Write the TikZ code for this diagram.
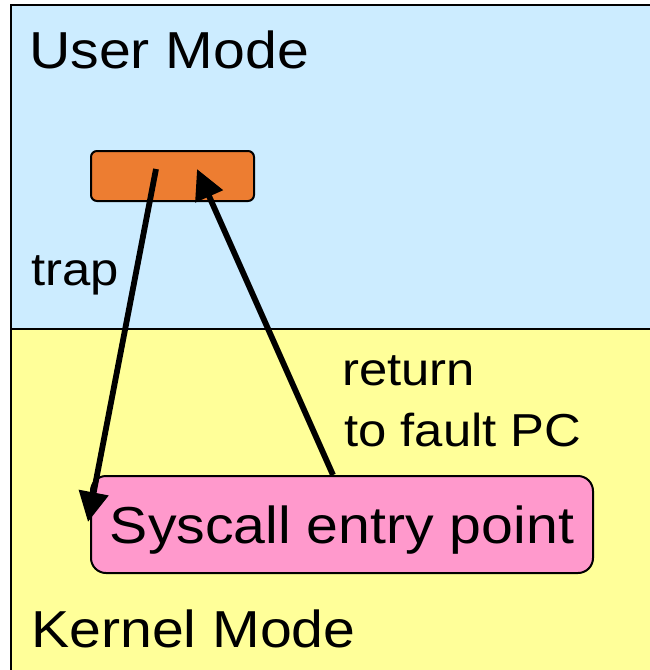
\documentclass[tikz,border=0pt]{standalone}
\usepackage{fontspec}
\setmainfont[FakeStretch=1.1]{Liberation Sans}
\usetikzlibrary{arrows.meta}
\definecolor{userbg}{HTML}{CCECFF}
\definecolor{kernbg}{HTML}{FFFF99}
\definecolor{procfill}{HTML}{ED7D31}
\definecolor{entryfill}{HTML}{FF99CC}
\begin{document}
\begin{tikzpicture}[x=1pt,y=-1pt,
  modelabel/.style={font=\fontsize{52}{60}\selectfont, inner sep=0pt, anchor=base west},
  armlabel/.style={font=\fontsize{46.2}{61}\selectfont, inner sep=0pt, anchor=base west},
  box/.style={draw=black, line width=2pt, inner sep=0pt},
  flow/.style={line width=5.8pt, -{Triangle[length=30pt,width=29pt]}}]
\useasboundingbox (0,0) rectangle (650,670);
\clip (0,0) rectangle (650,670);
\fill[white] (0,0) rectangle (650,670);
% the two privilege regions
\fill[userbg] (11,5) rectangle (660,329);
\fill[kernbg] (11,329) rectangle (660,680);
\draw[line width=2pt] (11,680) -- (11,5) -- (660,5);
\draw[line width=2pt] (11,329) -- (660,329);
% region titles
\node[modelabel] (user) at (29,68) {User Mode};
\node[modelabel] (kernel) at (31,647) {Kernel Mode};
% user instruction and kernel entry
\node[box, fill=procfill, rounded corners=6pt, minimum width=163pt, minimum height=50pt] (proc) at (172.5,176) {};
\node[box, fill=entryfill, rounded corners=15pt, minimum width=502pt, minimum height=97pt,
      font=\fontsize{52}{60}\selectfont, text height=37pt, text depth=0pt] (entry) at (342,524.5) {Syscall entry point};
% arrow end points
\coordinate (trapfrom) at (156,169);
\coordinate (trapto) at (88,522);
\coordinate (retfrom) at ([xshift=-9pt]entry.north);
\coordinate (retto) at (197,169);
\draw[flow] (trapfrom) -- (trapto);
\draw[flow] (retfrom) -- (retto);
% arrow labels
\node[armlabel] (traplbl) at (31,285) {trap};
\node[armlabel] (retlbl) at (342,385) {return};
\node[armlabel] (retlbl2) at (344,446) {to fault PC};
\end{tikzpicture}
\end{document}
